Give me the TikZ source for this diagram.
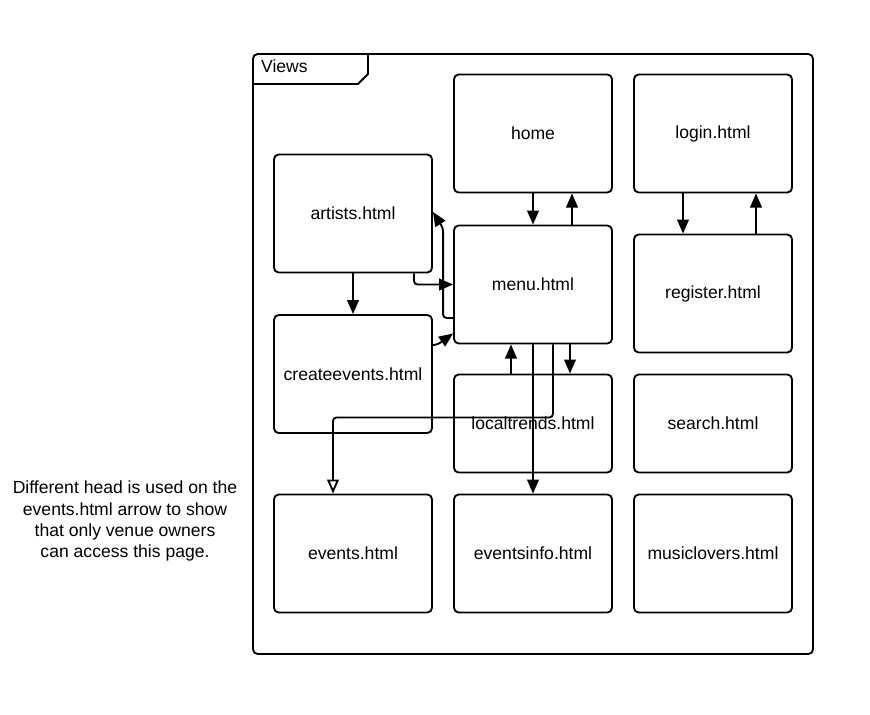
\documentclass[tikz,border=0pt]{standalone}
\usepackage{fontspec}
\setmainfont{Liberation Sans}
\usetikzlibrary{arrows.meta,calc}
\begin{document}
\begin{tikzpicture}[x=0.03cm,y=-0.03cm,
  page/.style={draw, line width=1.6pt, rounded corners=4pt, minimum width=4.74cm, minimum height=3.54cm, font=\fontsize{15}{18}\selectfont},
  arr/.style={line width=1.6pt, -{Triangle[length=12pt,width=10pt]}, rounded corners=3pt},
  owner/.style={line width=1.6pt, -{Triangle[open,length=12pt,width=10pt]}, rounded corners=3pt}]
\useasboundingbox (0,0) rectangle (870,714);
\draw[line width=1.6pt, rounded corners=4pt] (253,54) rectangle (813,654);
\draw[line width=1.6pt] (253,84) -- (358,84) -- (368,74) -- (368,54);
\node[anchor=west, font=\fontsize{15}{18}\selectfont] (views) at (257,66){Views};
\node[page] (home) at (533,133.5){home};
\node[page] (login) at (713,133.5){login.html};
\node[page] (artists) at (353,213.5){artists.html};
\node[page] (menu) at (533,284.5){menu.html};
\node[page] (register) at (713,293.5){register.html};
\node[page] (createevents) at (353,374){createevents.html};
\node[page, minimum height=2.94cm] (localtrends) at (533,423.5){localtrends.html};
\node[page, minimum height=2.94cm] (search) at (713,423.5){search.html};
\node[page] (events) at (353,553.5){events.html};
\node[page] (eventsinfo) at (533,553.5){eventsinfo.html};
\node[page] (musiclovers) at (713,553.5){musiclovers.html};
\node[align=center, font=\fontsize{15}{18}\selectfont] (note) at (125,521){Different head is used on the\\events.html arrow to show\\that only venue owners\\can access this page.};
\draw[arr](home) -- (menu);
\draw[arr]($(menu.north)+(39,0)$) -- ($(home.south)+(39,0)$);
\draw[arr]($(login.south)+(-30,0)$) -- ($(register.north)+(-30,0)$);
\draw[arr]($(register.north)+(43,0)$) -- ($(login.south)+(43,0)$);
\draw[arr](artists) -- (createevents);
\draw[arr]($(artists.south)+(61,0)$) |- (menu.west);
\draw[arr]($(menu.west)+(0,33.5)$) -- ++(-10,0) -- ++(0,-90) -- ($(artists.east)+(0,-1.5)$);
\draw[arr]($(createevents.east)+(0,-29)$) -- ++(4,0) -- ($(menu.west)+(0,49)$);
\draw[arr]($(localtrends.north)+(-22,0)$) -- ($(menu.south)+(-22,0)$);
\draw[arr]($(menu.south)+(37,0)$) -- ($(localtrends.north)+(37,0)$);
\draw[arr](menu) -- (eventsinfo);
\draw[owner]($(menu.south)+(20,0)$) -- ++(0,73) -| ($(events.north)+(-20,0)$);
\end{tikzpicture}
\end{document}
